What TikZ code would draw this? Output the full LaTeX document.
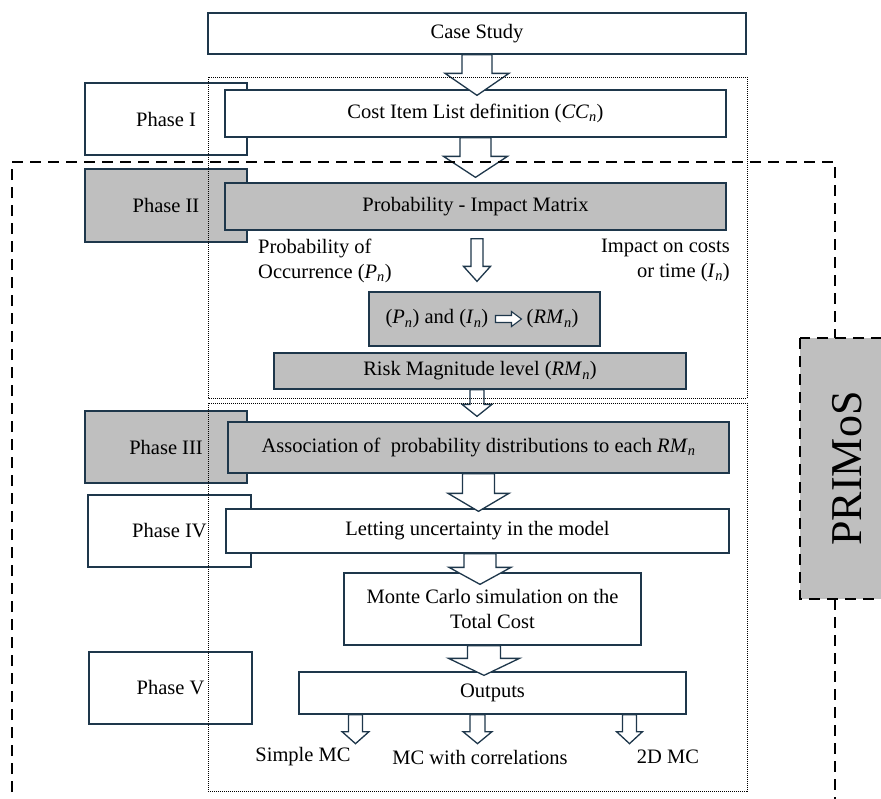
\documentclass[tikz,border=0pt]{standalone}
\usepackage{fontspec}
\setmainfont{Liberation Serif}
\usetikzlibrary{calc}
\definecolor{bc}{RGB}{30,55,75}
\definecolor{gr}{RGB}{191,191,191}
\newcommand\fz{\fontsize{20.5}{25}\selectfont}
\newcommand\mv[2]{\textit{#1}\textsubscript{\textit{#2}}}
% block arrow pointing down: start, tip, shaft width, head width, head length
\newcommand\barrow[5]{\draw[blk] let \p1=#1, \p2=#2 in
  (\x1-#3/2,\y1) -- (\x1-#3/2,\y2+#5) -- (\x1-#4/2,\y2+#5) -- (\x1,\y2)
  -- (\x1+#4/2,\y2+#5) -- (\x1+#3/2,\y2+#5) -- (\x1+#3/2,\y1) -- cycle;}
\tikzset{
  boxw/.style={draw=bc, line width=1.3pt, fill=white, inner sep=0pt, font=\fz, align=center},
  boxg/.style={boxw, fill=gr},
  blk/.style={draw=bc, line width=1.3pt, fill=white, line join=miter},
  dots/.style={draw=black, line width=0.9pt, dash pattern=on 1pt off 1pt},
  dsh/.style={draw=black, line width=2.8pt, dash pattern=on 11pt off 7pt},
  lbl/.style={inner sep=0pt, font=\fz},
}
\begin{document}
\begin{tikzpicture}[x=1pt,y=-1pt]
\useasboundingbox (0,0) rectangle (881,798);
\clip (0,0) rectangle (881,798);
\fill[white] (0,0) rectangle (881,798);

% phase boxes
\node[boxw, minimum width=162, minimum height=72] (ph1) at (166,119) {Phase I};
\node[boxg, minimum width=162, minimum height=73] (ph2) at (166,205.5) {Phase II};
\node[boxg, minimum width=162, minimum height=72] (ph3) at (166,447) {Phase III};
\node[boxw, minimum width=163, minimum height=72] (ph4) at (169.5,531) {Phase IV};
\node[boxw, minimum width=163, minimum height=72] (ph5) at (170.5,688) {Phase V};

% process boxes
\node[boxw, minimum width=538, minimum height=41] (cs) at (477,33.5) {Case Study};
\node[boxw, minimum width=501, minimum height=47] (cil) at (475.5,113.5) {Cost Item List definition (\mv{CC}{n})};
\node[boxg, minimum width=501, minimum height=47] (pim) at (475.5,206.5) {Probability - Impact Matrix};
\node[boxg, minimum width=231, minimum height=54] (pi) at (484.5,319) {};
\node[lbl, anchor=east] (pit1) at ($(pi.center)+(4,0)$) {(\mv{P}{n}) and (\mv{I}{n})};
\node[lbl, anchor=west] (pit2) at ($(pi.center)+(42,0)$) {(\mv{RM}{n})};
\draw[blk, line width=1.1pt] let \p1=(pit1.east), \p2=(pit2.west) in
  (\x1+7pt,\y1+3.5pt) -- (\x2-15pt,\y1+3.5pt) -- (\x2-15pt,\y1+7.5pt) -- (\x2-5pt,\y1)
  -- (\x2-15pt,\y1-7.5pt) -- (\x2-15pt,\y1-3.5pt) -- (\x1+7pt,\y1-3.5pt) -- cycle;
\node[boxg, minimum width=412, minimum height=36] (rm) at (480,371) {Risk Magnitude level (\mv{RM}{n})};
\node[boxg, minimum width=501, minimum height=51] (as) at (478.5,447.5) {Association of\ \ probability distributions to each \mv{RM}{n}};
\node[boxw, minimum width=503, minimum height=44] (lt) at (477.5,531) {Letting uncertainty in the model};
\node[boxw, minimum width=297, minimum height=72] (mc) at (492.5,609) {Monte Carlo simulation on the\\Total Cost};
\node[boxw, minimum width=387, minimum height=42] (out) at (492.5,693) {Outputs};

% side texts
\node[lbl, anchor=west, align=left] (po) at (258,260.5) {Probability of\\Occurrence (\mv{P}{n})};
\node[lbl, anchor=east, align=right] (ic) at (730,260.5) {Impact on costs\\or time (\mv{I}{n})};
\node[lbl] (o1) at (303,757) {Simple MC};
\node[lbl] (o2) at (480,757) {MC with correlations};
\node[lbl] (o3) at (668,757) {2D MC};

% block arrows
\barrow{(cs.south)}{($(cil.north)+(0,6)$)}{30pt}{64pt}{22pt}
\barrow{(cil.south)}{($(pim.north)+(0,-5)$)}{31pt}{64pt}{21pt}
\barrow{($(pim.south)+(1.5,8)$)}{($(pi.north)+(0,-10)$)}{12pt}{27pt}{15pt}
\barrow{($(rm.south)+(-3,0)$)}{($(as.north)+(0,-5)$)}{14pt}{30pt}{12pt}
\barrow{(as.south)}{($(lt.north)+(0,3)$)}{32pt}{61pt}{18pt}
\barrow{($(lt.south)+(2.5,0)$)}{($(mc.north)+(0,12)$)}{32pt}{62pt}{17pt}
\barrow{($(mc.south)+(-8.5,0)$)}{($(out.north)+(0,4)$)}{33pt}{71pt}{17pt}
\coordinate (t1) at ($(out.south)+(-137,29)$);
\coordinate (t2) at ($(out.south)+(-15,29)$);
\coordinate (t3) at ($(out.south)+(137,29)$);
\barrow{($(out.south)+(-137,0)$)}{(t1)}{14pt}{27pt}{12pt}
\barrow{($(out.south)+(-15,0)$)}{(t2)}{15pt}{29pt}{12pt}
\barrow{($(out.south)+(137,0)$)}{(t3)}{14pt}{26pt}{12pt}

% dotted phase groups
\draw[dots] (208,77) rectangle (747,398);
\draw[dots] (208,403) rectangle (747,791);

% dashed PRIMoS frame
\draw[dsh] (12,810) -- (12,162) -- (835,162) -- (835,338);
\draw[dsh] (835,599) -- (835,810);
\node[draw=black, line width=2.8pt, dash pattern=on 11pt off 7pt, fill=gr,
      minimum width=261, minimum height=95, inner sep=0pt, rotate=90,
      font=\fontsize{44}{44}\selectfont] (pr) at (847.5,468.5) {PRIMoS};
\end{tikzpicture}
\end{document}
